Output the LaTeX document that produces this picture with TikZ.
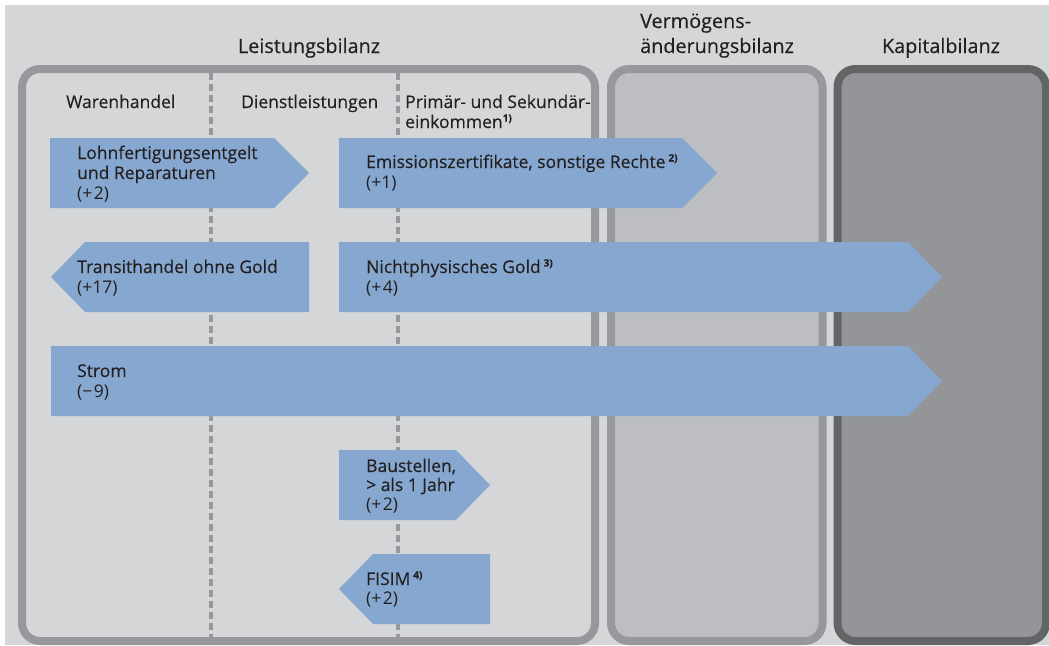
\documentclass[tikz,border=0pt]{standalone}
\usepackage{fontspec}
\setmainfont{Open Sans}
\definecolor{bgc}{HTML}{D5D6D8}
\definecolor{frameA}{HTML}{97989B}
\definecolor{fillB}{HTML}{BDBEC1}
\definecolor{fillC}{HTML}{949599}
\definecolor{frameC}{HTML}{636466}
\definecolor{arrowc}{HTML}{86A8D0}
\definecolor{txt}{HTML}{231F20}
\newcommand\fnote[1]{\raisebox{6.5pt}{\fontsize{10}{10}\selectfont\bfseries #1}}
\newcommand\gapsp{\kern1.5pt}
\begin{document}
\begin{tikzpicture}[x=1pt,y=-1pt,
  panel/.style={line width=8pt,rounded corners=18pt},
  colsep/.style={draw=frameA,line width=4.5pt,dash pattern=on 7pt off 4pt},
  arrowbox/.style={fill=arrowc},
  lbl/.style={anchor=base west,inner sep=0pt,text=txt,font=\fontsize{17.5}{21}\selectfont\addfontfeature{FakeBold=0.25}},
  num/.style={lbl,font=\fontsize{17.5}{21}\selectfont},
  title/.style={anchor=base,inner sep=0pt,text=txt,font=\fontsize{19.8}{24}\selectfont\addfontfeature{FakeBold=0.25}}]
\useasboundingbox (0,0) rectangle (1049,645);
\fill[bgc] (5,5) rectangle (1049,645);
% panels
\draw[panel,draw=frameA,fill=bgc] (22,69) rectangle (595,641);
\draw[panel,draw=frameA,fill=fillB] (611,69) rectangle (822.5,641);
\draw[panel,draw=frameC,fill=fillC] (837.5,69) rectangle (1046,641);
% column separators
\coordinate (s1t) at (211,73); \coordinate (s1b) at (211,637);
\coordinate (s2t) at (398,73); \coordinate (s2b) at (398,637);
\draw[colsep] (s1t) -- (s1b);
\draw[colsep] (s2t) -- (s2b);
% titles
\node[title] (tLB) at (309,53) {Leistungsbilanz};
\node[title,anchor=base west] (tV1) at (640,28) {Vermögens-};
\node[title,anchor=base west] (tV2) at (640,53) {änderungsbilanz};
\node[title] (tKB) at (941,53) {Kapitalbilanz};
% column headers
\node[lbl] (h1) at (66,108) {Warenhandel};
\node[lbl] (h2) at (241,108) {Dienstleistungen};
\node[lbl] (h3a) at (405,108) {Primär- und Sekundär-};
\node[lbl] (h3b) at (405,128) {einkommen\fnote{1)}};
% arrows
\path[arrowbox] (50,138) -- (274,138) -- (309,173) -- (274,208) -- (50,208) -- cycle;
\path[arrowbox] (339,138) -- (682,138) -- (717,173) -- (682,208) -- (339,208) -- cycle;
\path[arrowbox] (85,242) -- (309,242) -- (309,312) -- (85,312) -- (51,277) -- cycle;
\path[arrowbox] (339,242) -- (908,242) -- (942,277) -- (908,312) -- (339,312) -- cycle;
\path[arrowbox] (51,346) -- (908,346) -- (942,381) -- (908,416) -- (51,416) -- cycle;
\path[arrowbox] (339,450) -- (456,450) -- (490,485) -- (456,520) -- (339,520) -- cycle;
\path[arrowbox] (373,554) -- (490,554) -- (490,624) -- (373,624) -- (339,589) -- cycle;
% arrow labels
\node[lbl] (a1a) at (77,159) {Lohnfertigungsentgelt};
\node[lbl] (a1b) at (77,179) {und Reparaturen};
\node[num] (a1c) at (77,199) {(+\gapsp2)};
\node[lbl] (a2a) at (366,168) {Emissionszertifikate, sonstige Rechte\,\fnote{2)}};
\node[num] (a2b) at (366,188) {(+1)};
\node[lbl] (a3a) at (77,273) {Transithandel ohne Gold};
\node[num] (a3b) at (77,293) {(+17)};
\node[lbl] (a4a) at (366,273) {Nichtphysisches Gold\,\fnote{3)}};
\node[num] (a4b) at (366,293) {(+\gapsp4)};
\node[lbl] (a5a) at (77,377) {Strom};
\node[num] (a5b) at (77,397) {(−\gapsp9)};
\node[lbl] (a6a) at (366,472) {Baustellen,};
\node[lbl] (a6b) at (366,491) {> als 1 Jahr};
\node[num] (a6c) at (366,510) {(+\gapsp2)};
\node[lbl] (a7a) at (366,585) {FISIM\,\fnote{4)}};
\node[num] (a7b) at (366,604) {(+\gapsp2)};
\end{tikzpicture}
\end{document}
